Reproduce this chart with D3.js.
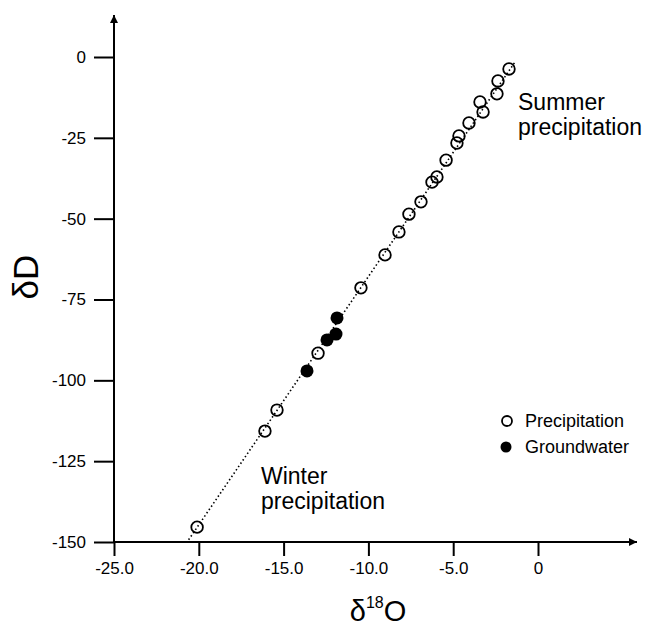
<!DOCTYPE html>
<html>
<head>
<meta charset="utf-8">
<script src="https://cdn.jsdelivr.net/npm/d3@7"></script>
<style>
  body { margin: 0; background: #fff; }
  svg { font-family: "Liberation Sans", Arial, sans-serif; }
</style>
</head>
<body>
<svg width="656" height="629"></svg>
<script>
// data (delta 18O, delta D)
var precipO = [-1.71, -2.36, -2.42, -3.42, -3.24, -4.07, -4.66, -4.78, -5.42, -5.96, -6.25, -6.90, -7.61, -8.20, -9.02, -10.44, -12.97, -15.39, -16.10, -20.10];
var precipD = [-3.7, -7.4, -11.4, -13.9, -17.0, -20.4, -24.4, -26.6, -31.9, -37.1, -38.7, -44.8, -48.6, -54.1, -61.2, -71.4, -91.6, -109.2, -115.7, -145.4];
var groundO = [-11.85, -11.91, -12.44, -13.62];
var groundD = [-80.7, -85.7, -87.5, -97.1];
// dotted meteoric water line end points
var lineO = [-20.6, -1.35];
var lineD = [-149.3, -1.5];

var xTicks = [-25, -20, -15, -10, -5, 0];
var xTickLabels = ["-25.0", "-20.0", "-15.0", "-10.0", "-5.0", "0"];
var yTicks = [0, -25, -50, -75, -100, -125, -150];
var yTickLabels = ["0", "-25", "-50", "-75", "-100", "-125", "-150"];

var svg = d3.select("svg");

var x = d3.scaleLinear().domain([-25, 0]).range([114, 538]);
var y = d3.scaleLinear().domain([-150, 0]).range([542, 57]);

// axis lines with arrows
svg.append("defs").append("marker")
    .attr("id", "arrow")
    .attr("viewBox", "0 0 10 10")
    .attr("refX", 10).attr("refY", 5)
    .attr("markerWidth", 10).attr("markerHeight", 8)
    .attr("markerUnits", "userSpaceOnUse")
    .attr("orient", "auto")
  .append("path")
    .attr("d", "M0,0L10,5L0,10Z")
    .attr("fill", "#000");

svg.append("line")
    .attr("x1", x(-25)).attr("y1", y(-150))
    .attr("x2", x(-25)).attr("y2", 15)
    .attr("stroke", "#000").attr("stroke-width", 2)
    .attr("marker-end", "url(#arrow)");
svg.append("line")
    .attr("x1", x(-25)).attr("y1", y(-150))
    .attr("x2", 637).attr("y2", y(-150))
    .attr("stroke", "#000").attr("stroke-width", 2)
    .attr("marker-end", "url(#arrow)");

// X axis
var gx = svg.append("g")
    .attr("transform", "translate(0," + y(-150) + ")")
    .call(d3.axisBottom(x)
        .tickValues(xTicks)
        .tickSize(14)
        .tickPadding(6)
        .tickFormat(function(d, i) { return xTickLabels[i]; }));
gx.select(".domain").remove();
gx.selectAll("line").attr("stroke-width", 2);
gx.selectAll("text").attr("font-size", 17).attr("fill", "#000");

// Y axis
var gy = svg.append("g")
    .attr("transform", "translate(" + x(-25) + ",0)")
    .call(d3.axisLeft(y)
        .tickValues(yTicks)
        .tickSize(20)
        .tickPadding(8)
        .tickFormat(function(d, i) { return yTickLabels[i]; }));
gy.select(".domain").remove();
gy.selectAll("line").attr("stroke-width", 2);
gy.selectAll("text").attr("font-size", 17).attr("fill", "#000");

// dotted line
svg.append("path")
    .datum(d3.zip(lineO, lineD))
    .attr("d", d3.line().x(function(d) { return x(d[0]); }).y(function(d) { return y(d[1]); }))
    .attr("fill", "none")
    .attr("stroke", "#000")
    .attr("stroke-width", 1.6)
    .attr("stroke-dasharray", "1.5,2.5");

// precipitation (open)
svg.append("g").selectAll("circle")
    .data(d3.zip(precipO, precipD))
    .enter()
    .append("circle")
        .attr("cx", function(d) { return x(d[0]); })
        .attr("cy", function(d) { return y(d[1]); })
        .attr("r", 5.8)
        .attr("fill", "none")
        .attr("stroke", "#000")
        .attr("stroke-width", 1.8);

// groundwater (filled)
svg.append("g").selectAll("circle")
    .data(d3.zip(groundO, groundD))
    .enter()
    .append("circle")
        .attr("cx", function(d) { return x(d[0]); })
        .attr("cy", function(d) { return y(d[1]); })
        .attr("r", 6.5)
        .attr("fill", "#000");

// annotations
var notes = svg.append("g").attr("font-size", 23).attr("fill", "#000");
notes.append("text").attr("x", 518).attr("y", 110).text("Summer");
notes.append("text").attr("x", 518).attr("y", 135).text("precipitation");
notes.append("text").attr("x", 261).attr("y", 484).text("Winter");
notes.append("text").attr("x", 261).attr("y", 509).text("precipitation");

// legend
var legend = svg.append("g").attr("font-size", 18);
legend.append("circle").attr("cx", 507).attr("cy", 421).attr("r", 5)
    .attr("fill", "none").attr("stroke", "#000").attr("stroke-width", 1.8);
legend.append("text").attr("x", 525).attr("y", 427).text("Precipitation");
legend.append("circle").attr("cx", 506).attr("cy", 447).attr("r", 5.5).attr("fill", "#000");
legend.append("text").attr("x", 525).attr("y", 453).text("Groundwater");

// axis titles
svg.append("text")
    .attr("transform", "translate(38,277)rotate(-90)")
    .attr("text-anchor", "middle")
    .attr("font-size", 35)
    .text("δD");

var xt = svg.append("text")
    .attr("x", 378).attr("y", 621)
    .attr("text-anchor", "middle")
    .attr("font-size", 29);
xt.append("tspan").text("δ");
xt.append("tspan").attr("font-size", 16).attr("dy", -13).text("18");
xt.append("tspan").attr("dy", 13).text("O");
</script>
</body>
</html>
